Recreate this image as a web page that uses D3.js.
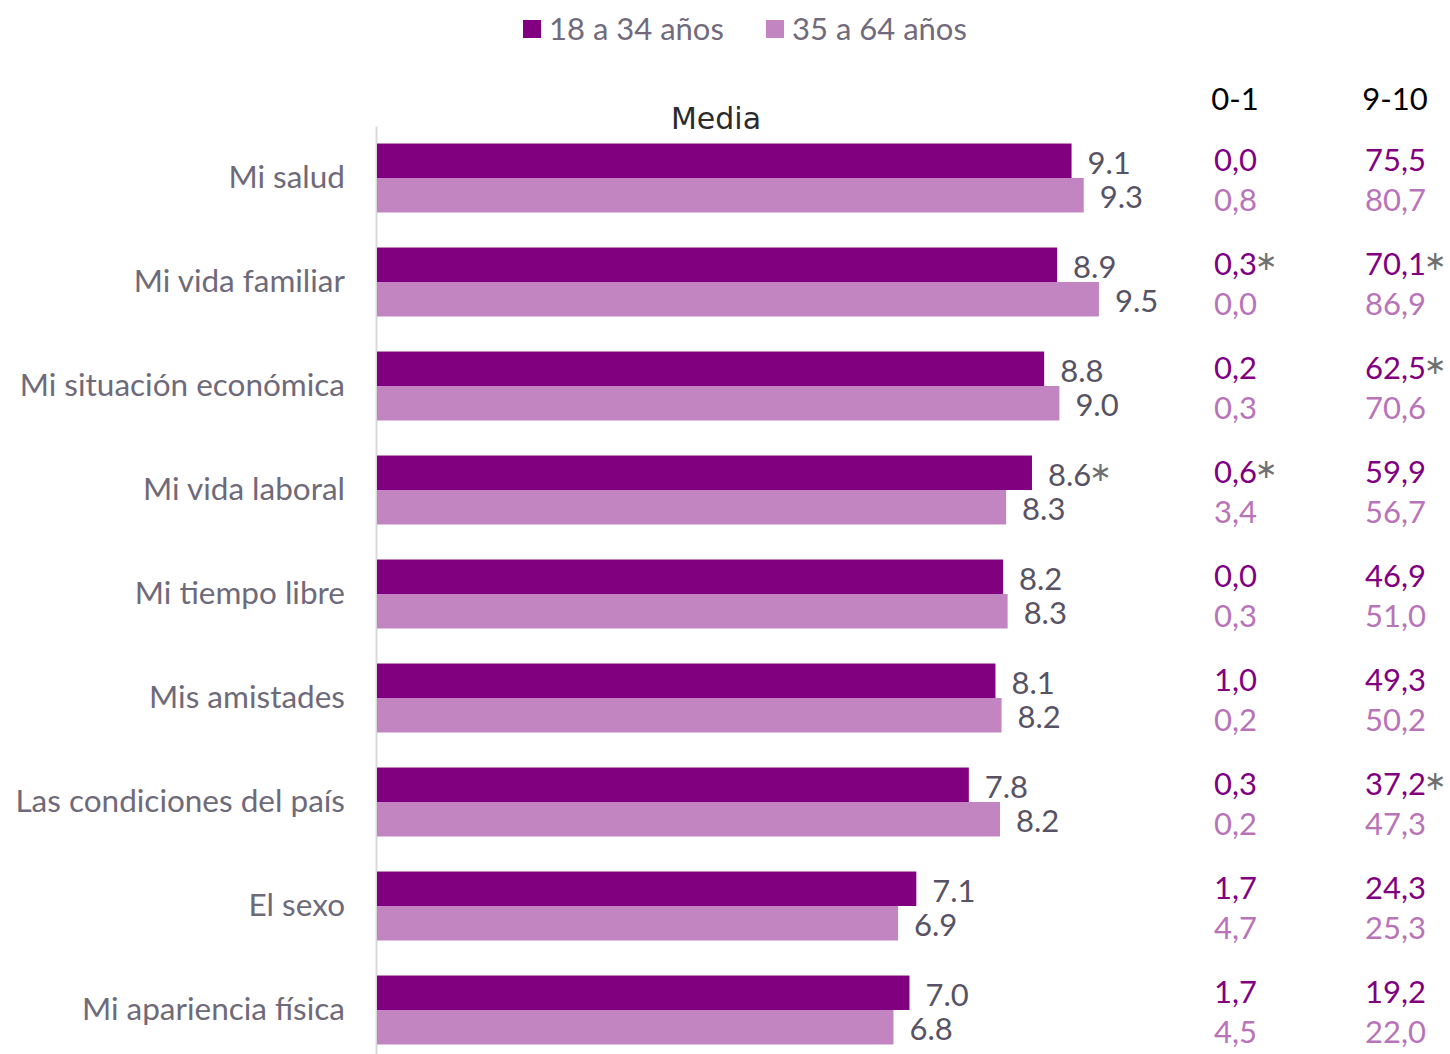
<!DOCTYPE html>
<html>
<head>
<meta charset="utf-8">
<script src="https://cdn.jsdelivr.net/npm/d3@7"></script>
<style>
  body { margin:0; background:#fff; }
  svg text { font-family: Lato, "Open Sans", sans-serif; }
</style>
</head>
<body>
<div id="chart"></div>
<script>
const categories = ["Mi salud","Mi vida familiar","Mi situación económica","Mi vida laboral","Mi tiempo libre","Mis amistades","Las condiciones del país","El sexo","Mi apariencia física"]
const series = ["18 a 34 años","35 a 64 años"]
const media18 = [9.14, 8.95, 8.78, 8.62, 8.24, 8.14, 7.79, 7.10, 7.01]
const media35 = [9.30, 9.50, 8.98, 8.28, 8.30, 8.22, 8.20, 6.86, 6.80]
const mediaStar18 = [false,false,false,true,false,false,false,false,false]
const low18 = ["0,0","0,3","0,2","0,6","0,0","1,0","0,3","1,7","1,7"]
const low35 = ["0,8","0,0","0,3","3,4","0,3","0,2","0,2","4,7","4,5"]
const lowStar18 = [false,true,false,true,false,false,false,false,false]
const high18 = ["75,5","70,1","62,5","59,9","46,9","49,3","37,2","24,3","19,2"]
const high35 = ["80,7","86,9","70,6","56,7","51,0","50,2","47,3","25,3","22,0"]
const highStar18 = [false,true,true,false,false,false,true,false,false]

const colors = ["#800080","#c385c2"]
const colTextColors = ["#800080","#b874b8"]
const labelGray = "#6f6a7a"
const valueGray = "#575264"
const starGray = "#707070"

const width = 1450, height = 1054

const svg = d3.select("#chart").append("svg")
  .attr("width", width).attr("height", height)

const x = d3.scaleLinear().domain([0,10]).range([376, 1137])
const y = d3.scaleBand().domain(categories).range([126, 1062])
  .paddingInner(0.337).paddingOuter(0.1685)
const ys = d3.scaleBand().domain(series).range([0, y.bandwidth()])

// legend
const legend = svg.append("g")
let lx = [523, 766]
series.forEach((s,i)=>{
  legend.append("rect").attr("x", lx[i]).attr("y", 20).attr("width", 18).attr("height", 18).attr("fill", colors[i])
  legend.append("text").attr("x", lx[i]+26).attr("y", 28).attr("dominant-baseline","central")
    .attr("font-size", 31).attr("fill", "#716a7c").text(s)
})

// headers
svg.append("text").attr("x", 716).attr("y", 118).attr("text-anchor","middle").attr("dominant-baseline","central")
  .attr("font-size", 30).attr("fill","#2b2b2b").style("font-family","'DejaVu Sans', sans-serif").text("Media")
svg.append("text").attr("x", 1235).attr("y", 98).attr("text-anchor","middle").attr("dominant-baseline","central")
  .attr("font-size", 31).attr("fill","#000").text("0-1")
svg.append("text").attr("x", 1395).attr("y", 98).attr("text-anchor","middle").attr("dominant-baseline","central")
  .attr("font-size", 31).attr("fill","#000").text("9-10")

// axis
let yAxis = d3.axisLeft(y).tickSize(0).tickPadding(31)
let yGroup = svg.append("g").attr("transform", `translate(${x(0)},0)`).call(yAxis)
yGroup.select(".domain").attr("stroke","#d9d9d9").attr("stroke-width",2)
yGroup.selectAll("text").attr("font-size", 31.5).attr("fill", labelGray)
  .attr("font-family","Lato, sans-serif")

const rows = categories.map((c,i)=>({
  cat:c,
  vals:[{s:series[0], v:media18[i], star:mediaStar18[i]}, {s:series[1], v:media35[i], star:false}],
  low:[{t:low18[i], star:lowStar18[i]},{t:low35[i], star:false}],
  high:[{t:high18[i], star:highStar18[i]},{t:high35[i], star:false}]
}))

const g = svg.selectAll("g.row").data(rows).enter().append("g").attr("class","row")
  .attr("transform", d=>`translate(0,${y(d.cat)})`)

g.selectAll("rect").data(d=>d.vals).enter().append("rect")
  .attr("x", x(0)+1)
  .attr("y", d=>ys(d.s))
  .attr("width", d=>x(d.v)-x(0)-1)
  .attr("height", ys.bandwidth())
  .attr("fill", (d,i)=>colors[i])

function addStar(t){
  t.append("tspan").attr("fill", starGray).style("font-family","'DejaVu Sans', sans-serif")
    .attr("font-size", 27).attr("dx", -2).attr("dy", -3).text("\u2217")
}

g.selectAll("text.val").data(d=>d.vals).enter().append("text").attr("class","val")
  .attr("x", d=>x(d.v)+16)
  .attr("y", d=>ys(d.s)+ys.bandwidth()/2+1)
  .attr("dominant-baseline","central")
  .attr("font-size", 31).attr("fill", valueGray)
  .each(function(d){
    let t = d3.select(this)
    t.append("tspan").text(d.v.toFixed(1))
    if(d.star) addStar(t)
  })

const colY = [-19, 21]
function column(key, xStart){
  g.selectAll("text."+key).data(d=>d[key]).enter().append("text").attr("class", key)
    .attr("x", xStart)
    .attr("y", (d,i)=>y.bandwidth()/2+colY[i])
    .attr("dominant-baseline","central")
    .attr("font-size", 31)
    .each(function(d,i){
      let t = d3.select(this)
      t.append("tspan").attr("fill", colTextColors[i]).text(d.t)
      if(d.star) addStar(t)
    })
}
column("low", 1214)
column("high", 1365)
</script>
</body>
</html>
